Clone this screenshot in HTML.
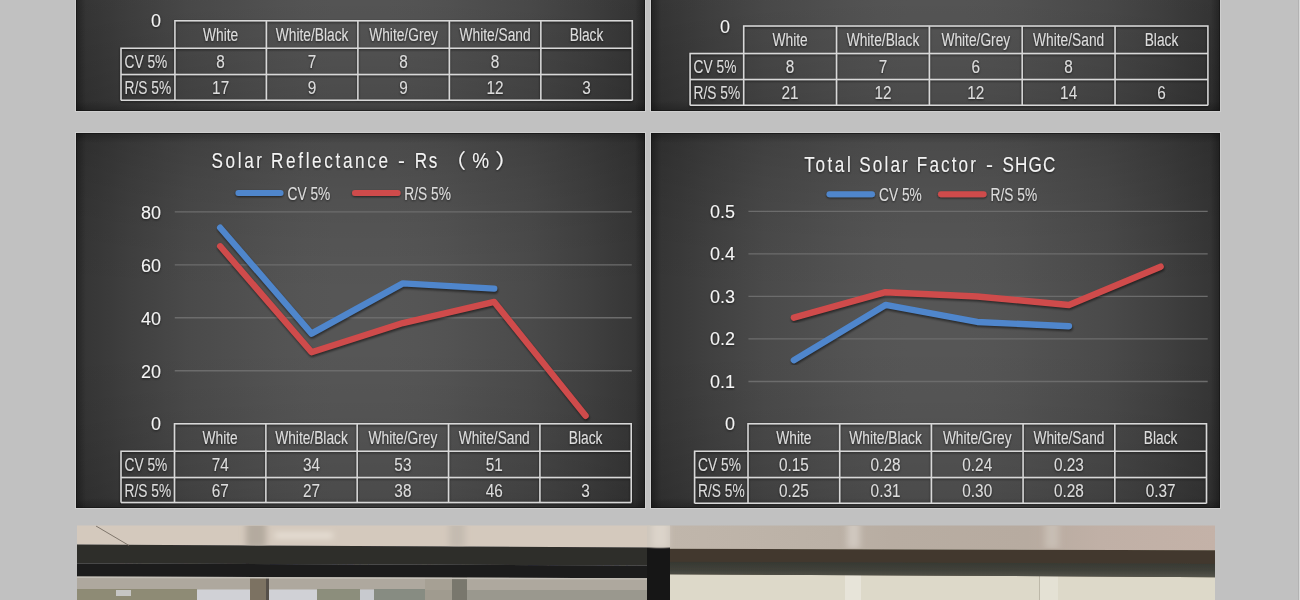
<!DOCTYPE html><html><head><meta charset="utf-8"><title>Solar performance charts</title><style>html,body{margin:0;padding:0;background:#c1c1c1;overflow:hidden}svg{display:block}text{font-family:"Liberation Sans","Noto Sans CJK SC",sans-serif}</style></head><body>
<svg width="1300" height="600" viewBox="0 0 1300 600">
<defs>
<filter id="blur" x="-5%" y="-5%" width="110%" height="110%"><feGaussianBlur stdDeviation="1.2"/></filter>
<filter id="tsh" x="-5%" y="-20%" width="110%" height="140%"><feGaussianBlur in="SourceAlpha" stdDeviation="0.8"/><feOffset dx="0" dy="1" result="b"/><feFlood flood-color="#000" flood-opacity="0.6"/><feComposite in2="b" operator="in"/><feMerge><feMergeNode/><feMergeNode in="SourceGraphic"/></feMerge></filter>
<linearGradient id="eL" x1="0" x2="1"><stop offset="0" stop-color="#000" stop-opacity="0.45"/><stop offset="0.15" stop-color="#000" stop-opacity="0.25"/><stop offset="1" stop-color="#000" stop-opacity="0"/></linearGradient>
<linearGradient id="eR" x1="1" x2="0"><stop offset="0" stop-color="#000" stop-opacity="0.45"/><stop offset="0.15" stop-color="#000" stop-opacity="0.25"/><stop offset="1" stop-color="#000" stop-opacity="0"/></linearGradient>
<linearGradient id="eT" x1="0" y1="0" x2="0" y2="1"><stop offset="0" stop-color="#000" stop-opacity="0.5"/><stop offset="0.15" stop-color="#000" stop-opacity="0.2"/><stop offset="1" stop-color="#000" stop-opacity="0"/></linearGradient>
<linearGradient id="eB" x1="0" y1="1" x2="0" y2="0"><stop offset="0" stop-color="#000" stop-opacity="0.4"/><stop offset="0.15" stop-color="#000" stop-opacity="0.2"/><stop offset="1" stop-color="#000" stop-opacity="0"/></linearGradient>
</defs>
<rect width="1300" height="600" fill="#c1c1c1"/>
<rect x="1298" y="0" width="1" height="600" fill="#b3b3b3"/><rect x="1299" y="0" width="1" height="600" fill="#dadada"/>
<linearGradient id="hA" x1="0" y1="0" x2="1" y2="0"><stop offset="0.00" stop-color="rgb(52,52,52)"/><stop offset="0.05" stop-color="rgb(58,58,58)"/><stop offset="0.10" stop-color="rgb(64,64,64)"/><stop offset="0.15" stop-color="rgb(69,69,69)"/><stop offset="0.20" stop-color="rgb(74,74,74)"/><stop offset="0.25" stop-color="rgb(77,77,77)"/><stop offset="0.30" stop-color="rgb(80,80,80)"/><stop offset="0.35" stop-color="rgb(83,83,83)"/><stop offset="0.40" stop-color="rgb(85,85,85)"/><stop offset="0.45" stop-color="rgb(86,86,86)"/><stop offset="0.50" stop-color="rgb(86,86,86)"/><stop offset="0.55" stop-color="rgb(86,86,86)"/><stop offset="0.60" stop-color="rgb(85,85,85)"/><stop offset="0.65" stop-color="rgb(83,83,83)"/><stop offset="0.70" stop-color="rgb(80,80,80)"/><stop offset="0.75" stop-color="rgb(77,77,77)"/><stop offset="0.80" stop-color="rgb(74,74,74)"/><stop offset="0.85" stop-color="rgb(69,69,69)"/><stop offset="0.90" stop-color="rgb(64,64,64)"/><stop offset="0.95" stop-color="rgb(58,58,58)"/><stop offset="1.00" stop-color="rgb(52,52,52)"/></linearGradient>
<linearGradient id="vA" x1="0" y1="0" x2="0" y2="1"><stop offset="0.00" stop-color="#000" stop-opacity="0.150"/><stop offset="0.05" stop-color="#000" stop-opacity="0.121"/><stop offset="0.10" stop-color="#000" stop-opacity="0.096"/><stop offset="0.15" stop-color="#000" stop-opacity="0.074"/><stop offset="0.20" stop-color="#000" stop-opacity="0.054"/><stop offset="0.25" stop-color="#000" stop-opacity="0.037"/><stop offset="0.30" stop-color="#000" stop-opacity="0.024"/><stop offset="0.35" stop-color="#000" stop-opacity="0.013"/><stop offset="0.40" stop-color="#000" stop-opacity="0.006"/><stop offset="0.45" stop-color="#000" stop-opacity="0.001"/><stop offset="0.50" stop-color="#000" stop-opacity="0.000"/><stop offset="0.55" stop-color="#000" stop-opacity="0.002"/><stop offset="0.60" stop-color="#000" stop-opacity="0.006"/><stop offset="0.65" stop-color="#000" stop-opacity="0.013"/><stop offset="0.70" stop-color="#000" stop-opacity="0.024"/><stop offset="0.75" stop-color="#000" stop-opacity="0.037"/><stop offset="0.80" stop-color="#000" stop-opacity="0.054"/><stop offset="0.85" stop-color="#000" stop-opacity="0.074"/><stop offset="0.90" stop-color="#000" stop-opacity="0.096"/><stop offset="0.95" stop-color="#000" stop-opacity="0.121"/><stop offset="1.00" stop-color="#000" stop-opacity="0.150"/></linearGradient>
<rect x="76" y="-264" width="569" height="375" fill="url(#hA)"/>
<rect x="76" y="-264" width="569" height="375" fill="url(#vA)"/>
<rect x="76" y="-264" width="10" height="375" fill="url(#eL)"/>
<rect x="635" y="-264" width="10" height="375" fill="url(#eR)"/>
<rect x="76" y="-264" width="569" height="10" fill="url(#eT)"/>
<rect x="76" y="101" width="569" height="10" fill="url(#eB)"/>
<rect x="75.5" y="-264.5" width="570" height="376" fill="none" stroke="#cfcfcf" stroke-width="1"/>
<rect x="76.5" y="-263.5" width="568" height="374" fill="none" stroke="#151515" stroke-opacity="0.55" stroke-width="1"/>
<linearGradient id="hB" x1="0" y1="0" x2="1" y2="0"><stop offset="0.00" stop-color="rgb(52,52,52)"/><stop offset="0.05" stop-color="rgb(58,58,58)"/><stop offset="0.10" stop-color="rgb(64,64,64)"/><stop offset="0.15" stop-color="rgb(69,69,69)"/><stop offset="0.20" stop-color="rgb(74,74,74)"/><stop offset="0.25" stop-color="rgb(77,77,77)"/><stop offset="0.30" stop-color="rgb(80,80,80)"/><stop offset="0.35" stop-color="rgb(83,83,83)"/><stop offset="0.40" stop-color="rgb(85,85,85)"/><stop offset="0.45" stop-color="rgb(86,86,86)"/><stop offset="0.50" stop-color="rgb(86,86,86)"/><stop offset="0.55" stop-color="rgb(86,86,86)"/><stop offset="0.60" stop-color="rgb(85,85,85)"/><stop offset="0.65" stop-color="rgb(83,83,83)"/><stop offset="0.70" stop-color="rgb(80,80,80)"/><stop offset="0.75" stop-color="rgb(77,77,77)"/><stop offset="0.80" stop-color="rgb(74,74,74)"/><stop offset="0.85" stop-color="rgb(69,69,69)"/><stop offset="0.90" stop-color="rgb(64,64,64)"/><stop offset="0.95" stop-color="rgb(58,58,58)"/><stop offset="1.00" stop-color="rgb(52,52,52)"/></linearGradient>
<linearGradient id="vB" x1="0" y1="0" x2="0" y2="1"><stop offset="0.00" stop-color="#000" stop-opacity="0.150"/><stop offset="0.05" stop-color="#000" stop-opacity="0.121"/><stop offset="0.10" stop-color="#000" stop-opacity="0.096"/><stop offset="0.15" stop-color="#000" stop-opacity="0.074"/><stop offset="0.20" stop-color="#000" stop-opacity="0.054"/><stop offset="0.25" stop-color="#000" stop-opacity="0.037"/><stop offset="0.30" stop-color="#000" stop-opacity="0.024"/><stop offset="0.35" stop-color="#000" stop-opacity="0.013"/><stop offset="0.40" stop-color="#000" stop-opacity="0.006"/><stop offset="0.45" stop-color="#000" stop-opacity="0.001"/><stop offset="0.50" stop-color="#000" stop-opacity="0.000"/><stop offset="0.55" stop-color="#000" stop-opacity="0.002"/><stop offset="0.60" stop-color="#000" stop-opacity="0.006"/><stop offset="0.65" stop-color="#000" stop-opacity="0.013"/><stop offset="0.70" stop-color="#000" stop-opacity="0.024"/><stop offset="0.75" stop-color="#000" stop-opacity="0.037"/><stop offset="0.80" stop-color="#000" stop-opacity="0.054"/><stop offset="0.85" stop-color="#000" stop-opacity="0.074"/><stop offset="0.90" stop-color="#000" stop-opacity="0.096"/><stop offset="0.95" stop-color="#000" stop-opacity="0.121"/><stop offset="1.00" stop-color="#000" stop-opacity="0.150"/></linearGradient>
<rect x="651" y="-264" width="569" height="375" fill="url(#hB)"/>
<rect x="651" y="-264" width="569" height="375" fill="url(#vB)"/>
<rect x="651" y="-264" width="10" height="375" fill="url(#eL)"/>
<rect x="1210" y="-264" width="10" height="375" fill="url(#eR)"/>
<rect x="651" y="-264" width="569" height="10" fill="url(#eT)"/>
<rect x="651" y="101" width="569" height="10" fill="url(#eB)"/>
<rect x="650.5" y="-264.5" width="570" height="376" fill="none" stroke="#cfcfcf" stroke-width="1"/>
<rect x="651.5" y="-263.5" width="568" height="374" fill="none" stroke="#151515" stroke-opacity="0.55" stroke-width="1"/>
<linearGradient id="hC" x1="0" y1="0" x2="1" y2="0"><stop offset="0.00" stop-color="rgb(52,52,52)"/><stop offset="0.05" stop-color="rgb(58,58,58)"/><stop offset="0.10" stop-color="rgb(64,64,64)"/><stop offset="0.15" stop-color="rgb(69,69,69)"/><stop offset="0.20" stop-color="rgb(74,74,74)"/><stop offset="0.25" stop-color="rgb(77,77,77)"/><stop offset="0.30" stop-color="rgb(80,80,80)"/><stop offset="0.35" stop-color="rgb(83,83,83)"/><stop offset="0.40" stop-color="rgb(85,85,85)"/><stop offset="0.45" stop-color="rgb(86,86,86)"/><stop offset="0.50" stop-color="rgb(86,86,86)"/><stop offset="0.55" stop-color="rgb(86,86,86)"/><stop offset="0.60" stop-color="rgb(85,85,85)"/><stop offset="0.65" stop-color="rgb(83,83,83)"/><stop offset="0.70" stop-color="rgb(80,80,80)"/><stop offset="0.75" stop-color="rgb(77,77,77)"/><stop offset="0.80" stop-color="rgb(74,74,74)"/><stop offset="0.85" stop-color="rgb(69,69,69)"/><stop offset="0.90" stop-color="rgb(64,64,64)"/><stop offset="0.95" stop-color="rgb(58,58,58)"/><stop offset="1.00" stop-color="rgb(52,52,52)"/></linearGradient>
<linearGradient id="vC" x1="0" y1="0" x2="0" y2="1"><stop offset="0.00" stop-color="#000" stop-opacity="0.150"/><stop offset="0.05" stop-color="#000" stop-opacity="0.121"/><stop offset="0.10" stop-color="#000" stop-opacity="0.096"/><stop offset="0.15" stop-color="#000" stop-opacity="0.074"/><stop offset="0.20" stop-color="#000" stop-opacity="0.054"/><stop offset="0.25" stop-color="#000" stop-opacity="0.037"/><stop offset="0.30" stop-color="#000" stop-opacity="0.024"/><stop offset="0.35" stop-color="#000" stop-opacity="0.013"/><stop offset="0.40" stop-color="#000" stop-opacity="0.006"/><stop offset="0.45" stop-color="#000" stop-opacity="0.001"/><stop offset="0.50" stop-color="#000" stop-opacity="0.000"/><stop offset="0.55" stop-color="#000" stop-opacity="0.002"/><stop offset="0.60" stop-color="#000" stop-opacity="0.006"/><stop offset="0.65" stop-color="#000" stop-opacity="0.013"/><stop offset="0.70" stop-color="#000" stop-opacity="0.024"/><stop offset="0.75" stop-color="#000" stop-opacity="0.037"/><stop offset="0.80" stop-color="#000" stop-opacity="0.054"/><stop offset="0.85" stop-color="#000" stop-opacity="0.074"/><stop offset="0.90" stop-color="#000" stop-opacity="0.096"/><stop offset="0.95" stop-color="#000" stop-opacity="0.121"/><stop offset="1.00" stop-color="#000" stop-opacity="0.150"/></linearGradient>
<rect x="76" y="133" width="569" height="375" fill="url(#hC)"/>
<rect x="76" y="133" width="569" height="375" fill="url(#vC)"/>
<rect x="76" y="133" width="10" height="375" fill="url(#eL)"/>
<rect x="635" y="133" width="10" height="375" fill="url(#eR)"/>
<rect x="76" y="133" width="569" height="10" fill="url(#eT)"/>
<rect x="76" y="498" width="569" height="10" fill="url(#eB)"/>
<rect x="75.5" y="132.5" width="570" height="376" fill="none" stroke="#cfcfcf" stroke-width="1"/>
<rect x="76.5" y="133.5" width="568" height="374" fill="none" stroke="#151515" stroke-opacity="0.55" stroke-width="1"/>
<linearGradient id="hD" x1="0" y1="0" x2="1" y2="0"><stop offset="0.00" stop-color="rgb(52,52,52)"/><stop offset="0.05" stop-color="rgb(58,58,58)"/><stop offset="0.10" stop-color="rgb(64,64,64)"/><stop offset="0.15" stop-color="rgb(69,69,69)"/><stop offset="0.20" stop-color="rgb(74,74,74)"/><stop offset="0.25" stop-color="rgb(77,77,77)"/><stop offset="0.30" stop-color="rgb(80,80,80)"/><stop offset="0.35" stop-color="rgb(83,83,83)"/><stop offset="0.40" stop-color="rgb(85,85,85)"/><stop offset="0.45" stop-color="rgb(86,86,86)"/><stop offset="0.50" stop-color="rgb(86,86,86)"/><stop offset="0.55" stop-color="rgb(86,86,86)"/><stop offset="0.60" stop-color="rgb(85,85,85)"/><stop offset="0.65" stop-color="rgb(83,83,83)"/><stop offset="0.70" stop-color="rgb(80,80,80)"/><stop offset="0.75" stop-color="rgb(77,77,77)"/><stop offset="0.80" stop-color="rgb(74,74,74)"/><stop offset="0.85" stop-color="rgb(69,69,69)"/><stop offset="0.90" stop-color="rgb(64,64,64)"/><stop offset="0.95" stop-color="rgb(58,58,58)"/><stop offset="1.00" stop-color="rgb(52,52,52)"/></linearGradient>
<linearGradient id="vD" x1="0" y1="0" x2="0" y2="1"><stop offset="0.00" stop-color="#000" stop-opacity="0.150"/><stop offset="0.05" stop-color="#000" stop-opacity="0.121"/><stop offset="0.10" stop-color="#000" stop-opacity="0.096"/><stop offset="0.15" stop-color="#000" stop-opacity="0.074"/><stop offset="0.20" stop-color="#000" stop-opacity="0.054"/><stop offset="0.25" stop-color="#000" stop-opacity="0.037"/><stop offset="0.30" stop-color="#000" stop-opacity="0.024"/><stop offset="0.35" stop-color="#000" stop-opacity="0.013"/><stop offset="0.40" stop-color="#000" stop-opacity="0.006"/><stop offset="0.45" stop-color="#000" stop-opacity="0.001"/><stop offset="0.50" stop-color="#000" stop-opacity="0.000"/><stop offset="0.55" stop-color="#000" stop-opacity="0.002"/><stop offset="0.60" stop-color="#000" stop-opacity="0.006"/><stop offset="0.65" stop-color="#000" stop-opacity="0.013"/><stop offset="0.70" stop-color="#000" stop-opacity="0.024"/><stop offset="0.75" stop-color="#000" stop-opacity="0.037"/><stop offset="0.80" stop-color="#000" stop-opacity="0.054"/><stop offset="0.85" stop-color="#000" stop-opacity="0.074"/><stop offset="0.90" stop-color="#000" stop-opacity="0.096"/><stop offset="0.95" stop-color="#000" stop-opacity="0.121"/><stop offset="1.00" stop-color="#000" stop-opacity="0.150"/></linearGradient>
<rect x="651" y="133" width="569" height="375" fill="url(#hD)"/>
<rect x="651" y="133" width="569" height="375" fill="url(#vD)"/>
<rect x="651" y="133" width="10" height="375" fill="url(#eL)"/>
<rect x="1210" y="133" width="10" height="375" fill="url(#eR)"/>
<rect x="651" y="133" width="569" height="10" fill="url(#eT)"/>
<rect x="651" y="498" width="569" height="10" fill="url(#eB)"/>
<rect x="650.5" y="132.5" width="570" height="376" fill="none" stroke="#cfcfcf" stroke-width="1"/>
<rect x="651.5" y="133.5" width="568" height="374" fill="none" stroke="#151515" stroke-opacity="0.55" stroke-width="1"/>
<g filter="url(#tsh)">
<text x="161" y="27.04" text-anchor="end" font-size="18" fill="#f4f4f4">0</text>
<path d="M174.9,100.3 V20.8 H632.30 V100.3 M121,100.3 V48.2 H632.30 M121,74.5 H632.30 M121,100.3 H632.30" stroke="#d8d8d8" stroke-width="1.5" fill="none"/>
<line x1="266.38" y1="20.8" x2="266.38" y2="100.3" stroke="#d8d8d8" stroke-width="1.5" fill="none"/>
<line x1="357.86" y1="20.8" x2="357.86" y2="100.3" stroke="#d8d8d8" stroke-width="1.5" fill="none"/>
<line x1="449.34" y1="20.8" x2="449.34" y2="100.3" stroke="#d8d8d8" stroke-width="1.5" fill="none"/>
<line x1="540.82" y1="20.8" x2="540.82" y2="100.3" stroke="#d8d8d8" stroke-width="1.5" fill="none"/>
<text transform="translate(220.64,41.10) scale(0.782,1)" text-anchor="middle" font-size="17.6" fill="#dcdcdc" >White</text>
<text transform="translate(220.64,67.95) scale(0.873,1)" text-anchor="middle" font-size="17.6" fill="#dcdcdc" >8</text>
<text transform="translate(220.64,94.00) scale(0.873,1)" text-anchor="middle" font-size="17.6" fill="#dcdcdc" >17</text>
<text transform="translate(312.12,41.10) scale(0.782,1)" text-anchor="middle" font-size="17.6" fill="#dcdcdc" >White/Black</text>
<text transform="translate(312.12,67.95) scale(0.873,1)" text-anchor="middle" font-size="17.6" fill="#dcdcdc" >7</text>
<text transform="translate(312.12,94.00) scale(0.873,1)" text-anchor="middle" font-size="17.6" fill="#dcdcdc" >9</text>
<text transform="translate(403.60,41.10) scale(0.782,1)" text-anchor="middle" font-size="17.6" fill="#dcdcdc" >White/Grey</text>
<text transform="translate(403.60,67.95) scale(0.873,1)" text-anchor="middle" font-size="17.6" fill="#dcdcdc" >8</text>
<text transform="translate(403.60,94.00) scale(0.873,1)" text-anchor="middle" font-size="17.6" fill="#dcdcdc" >9</text>
<text transform="translate(495.08,41.10) scale(0.782,1)" text-anchor="middle" font-size="17.6" fill="#dcdcdc" >White/Sand</text>
<text transform="translate(495.08,67.95) scale(0.873,1)" text-anchor="middle" font-size="17.6" fill="#dcdcdc" >8</text>
<text transform="translate(495.08,94.00) scale(0.873,1)" text-anchor="middle" font-size="17.6" fill="#dcdcdc" >12</text>
<text transform="translate(586.56,41.10) scale(0.782,1)" text-anchor="middle" font-size="17.6" fill="#dcdcdc" >Black</text>
<text transform="translate(586.56,94.00) scale(0.873,1)" text-anchor="middle" font-size="17.6" fill="#dcdcdc" >3</text>
<text transform="translate(124.50,67.95) scale(0.782,1)" text-anchor="start" font-size="17.6" fill="#dcdcdc" >CV 5%</text>
<text transform="translate(124.50,94.00) scale(0.782,1)" text-anchor="start" font-size="17.6" fill="#dcdcdc" >R/S 5%</text>
<text x="730" y="33.14" text-anchor="end" font-size="18" fill="#f4f4f4">0</text>
<path d="M743.7,105.3 V26.1 H1207.90 V105.3 M690.1,105.3 V53.6 H1207.90 M690.1,79.6 H1207.90 M690.1,105.3 H1207.90" stroke="#d8d8d8" stroke-width="1.5" fill="none"/>
<line x1="836.54" y1="26.1" x2="836.54" y2="105.3" stroke="#d8d8d8" stroke-width="1.5" fill="none"/>
<line x1="929.38" y1="26.1" x2="929.38" y2="105.3" stroke="#d8d8d8" stroke-width="1.5" fill="none"/>
<line x1="1022.22" y1="26.1" x2="1022.22" y2="105.3" stroke="#d8d8d8" stroke-width="1.5" fill="none"/>
<line x1="1115.06" y1="26.1" x2="1115.06" y2="105.3" stroke="#d8d8d8" stroke-width="1.5" fill="none"/>
<text transform="translate(790.12,46.45) scale(0.782,1)" text-anchor="middle" font-size="17.6" fill="#dcdcdc" >White</text>
<text transform="translate(790.12,73.20) scale(0.873,1)" text-anchor="middle" font-size="17.6" fill="#dcdcdc" >8</text>
<text transform="translate(790.12,99.05) scale(0.873,1)" text-anchor="middle" font-size="17.6" fill="#dcdcdc" >21</text>
<text transform="translate(882.96,46.45) scale(0.782,1)" text-anchor="middle" font-size="17.6" fill="#dcdcdc" >White/Black</text>
<text transform="translate(882.96,73.20) scale(0.873,1)" text-anchor="middle" font-size="17.6" fill="#dcdcdc" >7</text>
<text transform="translate(882.96,99.05) scale(0.873,1)" text-anchor="middle" font-size="17.6" fill="#dcdcdc" >12</text>
<text transform="translate(975.80,46.45) scale(0.782,1)" text-anchor="middle" font-size="17.6" fill="#dcdcdc" >White/Grey</text>
<text transform="translate(975.80,73.20) scale(0.873,1)" text-anchor="middle" font-size="17.6" fill="#dcdcdc" >6</text>
<text transform="translate(975.80,99.05) scale(0.873,1)" text-anchor="middle" font-size="17.6" fill="#dcdcdc" >12</text>
<text transform="translate(1068.64,46.45) scale(0.782,1)" text-anchor="middle" font-size="17.6" fill="#dcdcdc" >White/Sand</text>
<text transform="translate(1068.64,73.20) scale(0.873,1)" text-anchor="middle" font-size="17.6" fill="#dcdcdc" >8</text>
<text transform="translate(1068.64,99.05) scale(0.873,1)" text-anchor="middle" font-size="17.6" fill="#dcdcdc" >14</text>
<text transform="translate(1161.48,46.45) scale(0.782,1)" text-anchor="middle" font-size="17.6" fill="#dcdcdc" >Black</text>
<text transform="translate(1161.48,99.05) scale(0.873,1)" text-anchor="middle" font-size="17.6" fill="#dcdcdc" >6</text>
<text transform="translate(693.60,73.20) scale(0.782,1)" text-anchor="start" font-size="17.6" fill="#dcdcdc" >CV 5%</text>
<text transform="translate(693.60,99.05) scale(0.782,1)" text-anchor="start" font-size="17.6" fill="#dcdcdc" >R/S 5%</text>
</g>
<g filter="url(#tsh)">
<text transform="translate(211.50,168.3) scale(0.78,1)" font-size="22" letter-spacing="3.365" font-family="Liberation Sans, sans-serif" fill="#f2f2f2">Solar</text>
<text transform="translate(271.00,168.3) scale(0.78,1)" font-size="22" letter-spacing="3.397" font-family="Liberation Sans, sans-serif" fill="#f2f2f2">Reflectance</text>
<text transform="translate(398.00,168.3) scale(0.9360,1)" font-size="22" font-family="Liberation Sans, sans-serif" fill="#f2f2f2">-</text>
<text transform="translate(414.80,168.3) scale(0.78,1)" font-size="22" letter-spacing="1.923" font-family="Liberation Sans, sans-serif" fill="#f2f2f2">Rs</text>
<text transform="translate(444.10,168.3) scale(1.1000,1)" font-size="20" font-family="Noto Sans CJK SC, sans-serif" fill="#f2f2f2">（</text>
<text transform="translate(472.29,168.3) scale(0.8613,1)" font-size="22" font-family="Liberation Sans, sans-serif" fill="#f2f2f2">%</text>
<text transform="translate(494.96,168.3) scale(1.2400,1)" font-size="20" font-family="Noto Sans CJK SC, sans-serif" fill="#f2f2f2">）</text>
<text transform="translate(804.30,171.9) scale(0.78,1)" font-size="22" letter-spacing="3.269" font-family="Liberation Sans, sans-serif" fill="#f2f2f2">Total</text>
<text transform="translate(859.30,171.9) scale(0.78,1)" font-size="22" letter-spacing="2.692" font-family="Liberation Sans, sans-serif" fill="#f2f2f2">Solar</text>
<text transform="translate(916.80,171.9) scale(0.78,1)" font-size="22" letter-spacing="2.692" font-family="Liberation Sans, sans-serif" fill="#f2f2f2">Factor</text>
<text transform="translate(986.07,171.9) scale(0.9555,1)" font-size="22" font-family="Liberation Sans, sans-serif" fill="#f2f2f2">-</text>
<text transform="translate(1002.50,171.9) scale(0.78,1)" font-size="22" letter-spacing="1.410" font-family="Liberation Sans, sans-serif" fill="#f2f2f2">SHGC</text>
</g>
<g filter="url(#tsh)">
<line x1="238.5" y1="193" x2="280.5" y2="193" stroke="#4f86cc" stroke-width="6" stroke-linecap="round"/>
<line x1="355" y1="193" x2="397.6" y2="193" stroke="#cf4b4b" stroke-width="6" stroke-linecap="round"/>
<text transform="translate(287.50,199.50) scale(0.782,1)" text-anchor="start" font-size="17.6" fill="#dcdcdc" >CV 5%</text>
<text transform="translate(404.30,199.50) scale(0.782,1)" text-anchor="start" font-size="17.6" fill="#dcdcdc" >R/S 5%</text>
<line x1="829.5" y1="194.2" x2="872" y2="194.2" stroke="#4f86cc" stroke-width="6" stroke-linecap="round"/>
<line x1="941" y1="194.2" x2="983.6" y2="194.2" stroke="#cf4b4b" stroke-width="6" stroke-linecap="round"/>
<text transform="translate(879.00,200.50) scale(0.782,1)" text-anchor="start" font-size="17.6" fill="#dcdcdc" >CV 5%</text>
<text transform="translate(990.60,200.50) scale(0.782,1)" text-anchor="start" font-size="17.6" fill="#dcdcdc" >R/S 5%</text>
</g>
<line x1="174.75" y1="211.85" x2="631.75" y2="211.85" stroke="#6c6c6c" stroke-width="1.3"/>
<line x1="174.75" y1="264.81" x2="631.75" y2="264.81" stroke="#6c6c6c" stroke-width="1.3"/>
<line x1="174.75" y1="317.77" x2="631.75" y2="317.77" stroke="#6c6c6c" stroke-width="1.3"/>
<line x1="174.75" y1="370.74" x2="631.75" y2="370.74" stroke="#6c6c6c" stroke-width="1.3"/>
<line x1="748.4" y1="211.40" x2="1207.7" y2="211.40" stroke="#6c6c6c" stroke-width="1.3"/>
<line x1="748.4" y1="253.92" x2="1207.7" y2="253.92" stroke="#6c6c6c" stroke-width="1.3"/>
<line x1="748.4" y1="296.44" x2="1207.7" y2="296.44" stroke="#6c6c6c" stroke-width="1.3"/>
<line x1="748.4" y1="338.96" x2="1207.7" y2="338.96" stroke="#6c6c6c" stroke-width="1.3"/>
<line x1="748.4" y1="381.48" x2="1207.7" y2="381.48" stroke="#6c6c6c" stroke-width="1.3"/>
<path d="M220.18,227.74 L311.52,333.66 L402.88,283.35 L494.22,288.65" stroke="#000" stroke-opacity="0.5" stroke-width="6.5" fill="none" stroke-linecap="round" stroke-linejoin="round" transform="translate(0.6,1.8)" filter="url(#blur)"/>
<path d="M220.18,227.74 L311.52,333.66 L402.88,283.35 L494.22,288.65" stroke="#4f86cc" stroke-width="6.4" fill="none" stroke-linecap="round" stroke-linejoin="round"/>
<path d="M220.18,246.28 L311.52,352.20 L402.88,323.07 L494.22,301.89 L585.58,415.76" stroke="#000" stroke-opacity="0.5" stroke-width="6.5" fill="none" stroke-linecap="round" stroke-linejoin="round" transform="translate(0.6,1.8)" filter="url(#blur)"/>
<path d="M220.18,246.28 L311.52,352.20 L402.88,323.07 L494.22,301.89 L585.58,415.76" stroke="#cf4b4b" stroke-width="6.4" fill="none" stroke-linecap="round" stroke-linejoin="round"/>
<path d="M793.85,360.22 L885.55,304.94 L977.25,321.95 L1068.95,326.20" stroke="#000" stroke-opacity="0.5" stroke-width="6.5" fill="none" stroke-linecap="round" stroke-linejoin="round" transform="translate(0.6,1.8)" filter="url(#blur)"/>
<path d="M793.85,360.22 L885.55,304.94 L977.25,321.95 L1068.95,326.20" stroke="#4f86cc" stroke-width="6.4" fill="none" stroke-linecap="round" stroke-linejoin="round"/>
<path d="M793.85,317.70 L885.55,292.19 L977.25,296.44 L1068.95,304.94 L1160.65,266.68" stroke="#000" stroke-opacity="0.5" stroke-width="6.5" fill="none" stroke-linecap="round" stroke-linejoin="round" transform="translate(0.6,1.8)" filter="url(#blur)"/>
<path d="M793.85,317.70 L885.55,292.19 L977.25,296.44 L1068.95,304.94 L1160.65,266.68" stroke="#cf4b4b" stroke-width="6.4" fill="none" stroke-linecap="round" stroke-linejoin="round"/>
<g filter="url(#tsh)">
<text x="161" y="218.89" text-anchor="end" font-size="18" fill="#f4f4f4">80</text>
<text x="161" y="271.86" text-anchor="end" font-size="18" fill="#f4f4f4">60</text>
<text x="161" y="324.82" text-anchor="end" font-size="18" fill="#f4f4f4">40</text>
<text x="161" y="377.78" text-anchor="end" font-size="18" fill="#f4f4f4">20</text>
<text x="161" y="430.14" text-anchor="end" font-size="18" fill="#f4f4f4">0</text>
<path d="M174.5,502.6 V423.7 H631.25 V502.6 M121,502.6 V451.2 H631.25 M121,477.6 H631.25 M121,502.6 H631.25" stroke="#d8d8d8" stroke-width="1.5" fill="none"/>
<line x1="265.85" y1="423.7" x2="265.85" y2="502.6" stroke="#d8d8d8" stroke-width="1.5" fill="none"/>
<line x1="357.20" y1="423.7" x2="357.20" y2="502.6" stroke="#d8d8d8" stroke-width="1.5" fill="none"/>
<line x1="448.55" y1="423.7" x2="448.55" y2="502.6" stroke="#d8d8d8" stroke-width="1.5" fill="none"/>
<line x1="539.90" y1="423.7" x2="539.90" y2="502.6" stroke="#d8d8d8" stroke-width="1.5" fill="none"/>
<text transform="translate(220.18,444.05) scale(0.782,1)" text-anchor="middle" font-size="17.6" fill="#dcdcdc" >White</text>
<text transform="translate(220.18,471.00) scale(0.873,1)" text-anchor="middle" font-size="17.6" fill="#dcdcdc" >74</text>
<text transform="translate(220.18,496.70) scale(0.873,1)" text-anchor="middle" font-size="17.6" fill="#dcdcdc" >67</text>
<text transform="translate(311.52,444.05) scale(0.782,1)" text-anchor="middle" font-size="17.6" fill="#dcdcdc" >White/Black</text>
<text transform="translate(311.52,471.00) scale(0.873,1)" text-anchor="middle" font-size="17.6" fill="#dcdcdc" >34</text>
<text transform="translate(311.52,496.70) scale(0.873,1)" text-anchor="middle" font-size="17.6" fill="#dcdcdc" >27</text>
<text transform="translate(402.88,444.05) scale(0.782,1)" text-anchor="middle" font-size="17.6" fill="#dcdcdc" >White/Grey</text>
<text transform="translate(402.88,471.00) scale(0.873,1)" text-anchor="middle" font-size="17.6" fill="#dcdcdc" >53</text>
<text transform="translate(402.88,496.70) scale(0.873,1)" text-anchor="middle" font-size="17.6" fill="#dcdcdc" >38</text>
<text transform="translate(494.22,444.05) scale(0.782,1)" text-anchor="middle" font-size="17.6" fill="#dcdcdc" >White/Sand</text>
<text transform="translate(494.22,471.00) scale(0.873,1)" text-anchor="middle" font-size="17.6" fill="#dcdcdc" >51</text>
<text transform="translate(494.22,496.70) scale(0.873,1)" text-anchor="middle" font-size="17.6" fill="#dcdcdc" >46</text>
<text transform="translate(585.58,444.05) scale(0.782,1)" text-anchor="middle" font-size="17.6" fill="#dcdcdc" >Black</text>
<text transform="translate(585.58,496.70) scale(0.873,1)" text-anchor="middle" font-size="17.6" fill="#dcdcdc" >3</text>
<text transform="translate(124.50,471.00) scale(0.782,1)" text-anchor="start" font-size="17.6" fill="#dcdcdc" >CV 5%</text>
<text transform="translate(124.50,496.70) scale(0.782,1)" text-anchor="start" font-size="17.6" fill="#dcdcdc" >R/S 5%</text>
<text x="735" y="217.84" text-anchor="end" font-size="18" fill="#f4f4f4">0.5</text>
<text x="735" y="260.36" text-anchor="end" font-size="18" fill="#f4f4f4">0.4</text>
<text x="735" y="302.88" text-anchor="end" font-size="18" fill="#f4f4f4">0.3</text>
<text x="735" y="345.40" text-anchor="end" font-size="18" fill="#f4f4f4">0.2</text>
<text x="735" y="387.92" text-anchor="end" font-size="18" fill="#f4f4f4">0.1</text>
<text x="735" y="430.44" text-anchor="end" font-size="18" fill="#f4f4f4">0</text>
<path d="M748.0,503.2 V423.8 H1206.50 V503.2 M694.6,503.2 V451.2 H1206.50 M694.6,477.4 H1206.50 M694.6,503.2 H1206.50" stroke="#d8d8d8" stroke-width="1.5" fill="none"/>
<line x1="839.70" y1="423.8" x2="839.70" y2="503.2" stroke="#d8d8d8" stroke-width="1.5" fill="none"/>
<line x1="931.40" y1="423.8" x2="931.40" y2="503.2" stroke="#d8d8d8" stroke-width="1.5" fill="none"/>
<line x1="1023.10" y1="423.8" x2="1023.10" y2="503.2" stroke="#d8d8d8" stroke-width="1.5" fill="none"/>
<line x1="1114.80" y1="423.8" x2="1114.80" y2="503.2" stroke="#d8d8d8" stroke-width="1.5" fill="none"/>
<text transform="translate(793.85,444.10) scale(0.782,1)" text-anchor="middle" font-size="17.6" fill="#dcdcdc" >White</text>
<text transform="translate(793.85,470.90) scale(0.873,1)" text-anchor="middle" font-size="17.6" fill="#dcdcdc" >0.15</text>
<text transform="translate(793.85,496.90) scale(0.873,1)" text-anchor="middle" font-size="17.6" fill="#dcdcdc" >0.25</text>
<text transform="translate(885.55,444.10) scale(0.782,1)" text-anchor="middle" font-size="17.6" fill="#dcdcdc" >White/Black</text>
<text transform="translate(885.55,470.90) scale(0.873,1)" text-anchor="middle" font-size="17.6" fill="#dcdcdc" >0.28</text>
<text transform="translate(885.55,496.90) scale(0.873,1)" text-anchor="middle" font-size="17.6" fill="#dcdcdc" >0.31</text>
<text transform="translate(977.25,444.10) scale(0.782,1)" text-anchor="middle" font-size="17.6" fill="#dcdcdc" >White/Grey</text>
<text transform="translate(977.25,470.90) scale(0.873,1)" text-anchor="middle" font-size="17.6" fill="#dcdcdc" >0.24</text>
<text transform="translate(977.25,496.90) scale(0.873,1)" text-anchor="middle" font-size="17.6" fill="#dcdcdc" >0.30</text>
<text transform="translate(1068.95,444.10) scale(0.782,1)" text-anchor="middle" font-size="17.6" fill="#dcdcdc" >White/Sand</text>
<text transform="translate(1068.95,470.90) scale(0.873,1)" text-anchor="middle" font-size="17.6" fill="#dcdcdc" >0.23</text>
<text transform="translate(1068.95,496.90) scale(0.873,1)" text-anchor="middle" font-size="17.6" fill="#dcdcdc" >0.28</text>
<text transform="translate(1160.65,444.10) scale(0.782,1)" text-anchor="middle" font-size="17.6" fill="#dcdcdc" >Black</text>
<text transform="translate(1160.65,496.90) scale(0.873,1)" text-anchor="middle" font-size="17.6" fill="#dcdcdc" >0.37</text>
<text transform="translate(698.10,470.90) scale(0.782,1)" text-anchor="start" font-size="17.6" fill="#dcdcdc" >CV 5%</text>
<text transform="translate(698.10,496.90) scale(0.782,1)" text-anchor="start" font-size="17.6" fill="#dcdcdc" >R/S 5%</text>
</g>
<clipPath id="pc"><rect x="77" y="525.4" width="1138" height="75"/></clipPath>
<clipPath id="pcl"><polygon points="77,525.4 647,525.4 647,547.2 77,544.8"/></clipPath>
<clipPath id="pcr"><rect x="647" y="525.4" width="568" height="23.1"/></clipPath>
<filter id="pb" x="-2%" y="-10%" width="104%" height="120%"><feGaussianBlur stdDeviation="0.7"/></filter>
<filter id="pb2" x="-20%" y="-20%" width="140%" height="140%"><feGaussianBlur stdDeviation="3"/></filter>
<linearGradient id="ceilR" x1="0" x2="1"><stop offset="0" stop-color="#c0b6ab"/><stop offset="0.3" stop-color="#bbb1a6"/><stop offset="0.4" stop-color="#b8ada2"/><stop offset="0.65" stop-color="#b7aba0"/><stop offset="0.78" stop-color="#c0b0a6"/><stop offset="1" stop-color="#c4b2a8"/></linearGradient>
<linearGradient id="bandR" x1="0" y1="0" x2="0" y2="1"><stop offset="0" stop-color="#363832"/><stop offset="0.6" stop-color="#42433b"/><stop offset="1" stop-color="#55554c"/></linearGradient>
<g clip-path="url(#pc)"><g filter="url(#pb)">
<rect x="70" y="570" width="580" height="20" fill="#aea89e"/>
<rect x="70" y="590" width="580" height="12" fill="#9a988e"/>
<rect x="70" y="589" width="127" height="13" fill="#8e8b74"/>
<rect x="116" y="590" width="15" height="6" fill="#c6c6c4"/>
<rect x="197" y="589.5" width="53" height="12" fill="#d0d1d6"/>
<rect x="269" y="589.5" width="48" height="12" fill="#d0d1d6"/>
<rect x="317" y="589" width="43" height="12" fill="#8c8e7c"/>
<rect x="360" y="589.5" width="14" height="12" fill="#c8cacf"/>
<rect x="374" y="589" width="51" height="12" fill="#878c82"/>
<rect x="425" y="570" width="27" height="32" fill="#a29c90" opacity="0.7"/>
<rect x="250" y="570" width="19" height="32" fill="#7c7262"/>
<rect x="266" y="570" width="3" height="32" fill="#55504a"/>
<rect x="452" y="570" width="15" height="32" fill="#79776d"/>
<polygon points="70,520 650,520 650,547.4 70,544.6" fill="#d4c9bd"/>
<polygon points="70,544.6 650,547.4 650,565.6 70,563.4" fill="#2e2d2b"/>
<polygon points="70,563.4 650,565.6 650,578.2 70,576.6" fill="#1b1b1c"/>
<polygon points="70,576.6 650,578.2 650,579.6 70,578" fill="#c4c0b8"/>
<line x1="96" y1="526" x2="129" y2="545.5" stroke="#756c62" stroke-width="0.9"/>
</g>
<g clip-path="url(#pcl)"><g filter="url(#pb2)">
<rect x="246" y="520" width="20" height="28" fill="#b4aa9f"/>
<rect x="449" y="520" width="16" height="28" fill="#c4bbb0"/>
<rect x="275" y="533" width="58" height="5" fill="#ebe4da"/>
</g></g>
<g filter="url(#pb)">
<rect x="647" y="520" width="23" height="28" fill="#cec6bc"/>
<rect x="647" y="547.5" width="23" height="55" fill="#121212"/>
<rect x="670" y="520" width="550" height="82" fill="#ddd9c9"/>
<rect x="845" y="570" width="16" height="32" fill="#e7e4d9"/>
<rect x="1039" y="570" width="19" height="32" fill="#e4e1d4"/>
<rect x="1039" y="570" width="1" height="32" fill="#bdb8a8"/>
<polygon points="670,520 1220,520 1220,550.2 670,548.8" fill="url(#ceilR)"/>
<polygon points="670,548.8 1220,550.2 1220,577.2 670,574.2" fill="#42392d"/>
<polygon points="670,561.8 1220,563.8 1220,577.2 670,574.2" fill="url(#bandR)"/>
</g>
<g clip-path="url(#pcr)"><g filter="url(#pb2)">
<rect x="847" y="520" width="13" height="29" fill="#d0c8bf"/>
<rect x="1045" y="520" width="14" height="29" fill="#c8beb4"/>
<rect x="652" y="520" width="16" height="28" fill="#dcd4ca"/>
</g></g>
</g>
</svg></body></html>
